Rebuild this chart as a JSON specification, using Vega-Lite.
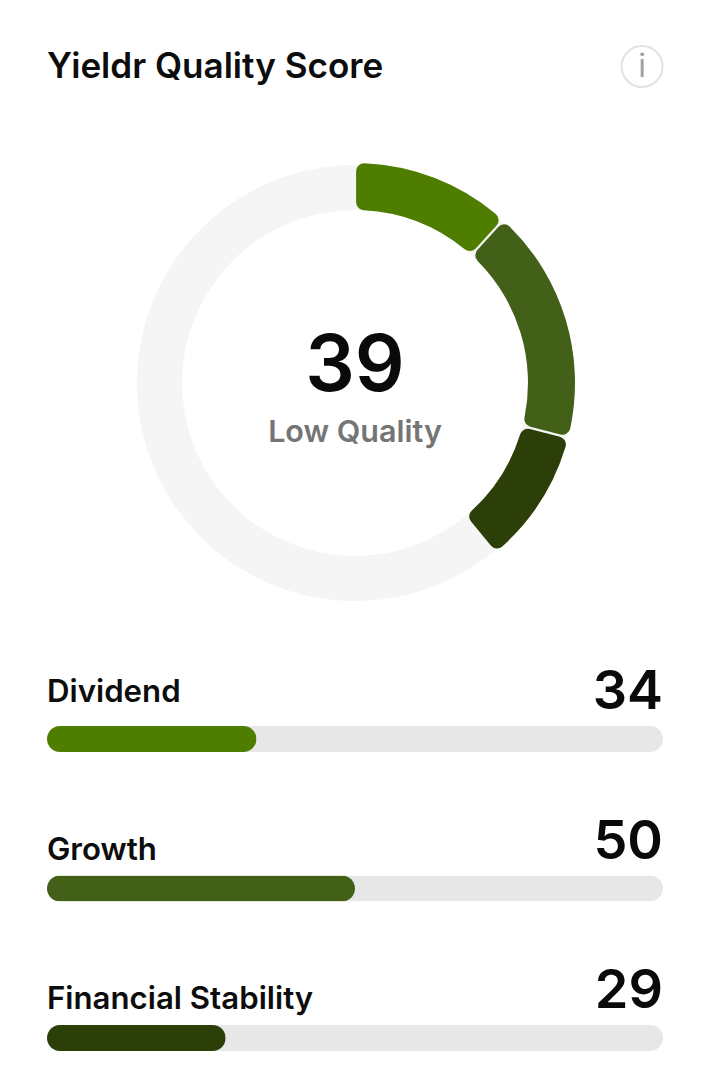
{
"$schema":"https://vega.github.io/schema/vega-lite/v6.json",
"background":"#ffffff",
"padding":{"left":47,"right":45,"top":0,"bottom":0},
"spacing":0,
"config":{"view":{"stroke":null},"font":"Inter"},
"datasets":{
"pillars":[{"pillar":"Dividend","score":34,"order":1,"max":100},{"pillar":"Growth","score":50,"order":2,"max":100},{"pillar":"Financial Stability","score":29,"order":3,"max":100}],
"ring":[{"share":100}],
"overall":[{"score":39,"label":"Low Quality"}],
"head":[{"title":"Yieldr Quality Score","pos":0,"icon":96.6,"i":"i"}]
},
"vconcat":[
{"width":616,"height":133,"data":{"name":"head"},
 "layer":[
 {"mark":{"type":"text","align":"left","baseline":"middle","fontSize":35.1,"fontWeight":600,"color":"#0d0d0d"},
  "encoding":{"x":{"field":"pos","type":"quantitative","scale":{"domain":[0,100]},"axis":null},"y":{"value":67},"text":{"field":"title"}}},
 {"mark":{"type":"point","filled":false,"stroke":"#e2e2e2","strokeWidth":2,"opacity":1,"size":1681,"shape":"circle"},
  "encoding":{"x":{"field":"icon","type":"quantitative","scale":{"domain":[0,100]},"axis":null},"y":{"value":66.5}}},
 {"mark":{"type":"text","baseline":"middle","fontSize":32,"fontWeight":400,"color":"#a0a0a0"},
  "encoding":{"x":{"field":"icon","type":"quantitative","scale":{"domain":[0,100]},"axis":null},"y":{"value":67},"text":{"field":"i"}}}
 ]},
{"width":616,"height":500,
 "layer":[
 {"data":{"name":"ring"},"mark":{"type":"arc","radius":218,"radius2":173,"color":"#f5f5f5"},
  "encoding":{"theta":{"field":"share","type":"quantitative","scale":{"domain":[0,100]}}}},
 {"data":{"name":"pillars"},"mark":{"type":"arc","radius":220,"radius2":173,"cornerRadius":8,"padAngle":0.008},
  "encoding":{"theta":{"field":"score","type":"quantitative","stack":true,"scale":{"domain":[0,289.7]}},
   "order":{"field":"order"},
   "color":{"field":"pillar","type":"nominal","legend":null,"scale":{"domain":["Dividend","Growth","Financial Stability"],"range":["#4e7d00","#436018","#2c3f08"]}}}},
 {"data":{"name":"overall"},"mark":{"type":"text","fontSize":78,"fontWeight":600,"color":"#0a0a0a","baseline":"middle","dy":-15},
  "encoding":{"text":{"field":"score"}}},
 {"data":{"name":"overall"},"mark":{"type":"text","fontSize":30.5,"fontWeight":600,"color":"#757575","baseline":"middle","dy":50},
  "encoding":{"text":{"field":"label"}}}
 ],
 "resolve":{"scale":{"theta":"independent"}}},
{"width":616,"height":441,"data":{"name":"pillars"},
 "encoding":{"y":{"field":"pillar","type":"nominal","axis":null,"scale":{"type":"point","padding":0,"domain":["Dividend","Growth","Financial Stability"],"range":[106,405]}}},
 "layer":[
 {"mark":{"type":"bar","size":26,"cornerRadius":13,"color":"#e7e7e7"},
  "encoding":{"x":{"field":"max","type":"quantitative","scale":{"domain":[0,100]},"axis":null}}},
 {"mark":{"type":"bar","size":26,"cornerRadius":13},
  "encoding":{"x":{"field":"score","type":"quantitative","scale":{"domain":[0,100]},"axis":null},
   "color":{"field":"pillar","type":"nominal","legend":null,"scale":{"domain":["Dividend","Growth","Financial Stability"],"range":["#4e7d00","#436018","#2c3f08"]}}}},
 {"transform":[{"filter":"datum.order==1"}],"mark":{"type":"text","align":"left","baseline":"middle","fontSize":31.2,"fontWeight":600,"color":"#0d0d0d","dy":-46,"x":0},
  "encoding":{"text":{"field":"pillar"}}},
 {"transform":[{"filter":"datum.order>1"}],"mark":{"type":"text","align":"left","baseline":"middle","fontSize":31.2,"fontWeight":600,"color":"#0d0d0d","dy":-38,"x":0},
  "encoding":{"text":{"field":"pillar"}}},
 {"mark":{"type":"text","align":"right","baseline":"middle","fontSize":54,"fontWeight":600,"color":"#0a0a0a","dy":-46},
  "encoding":{"x":{"field":"max","type":"quantitative","scale":{"domain":[0,100]},"axis":null},"text":{"field":"score"}}}
 ]}
]
}
